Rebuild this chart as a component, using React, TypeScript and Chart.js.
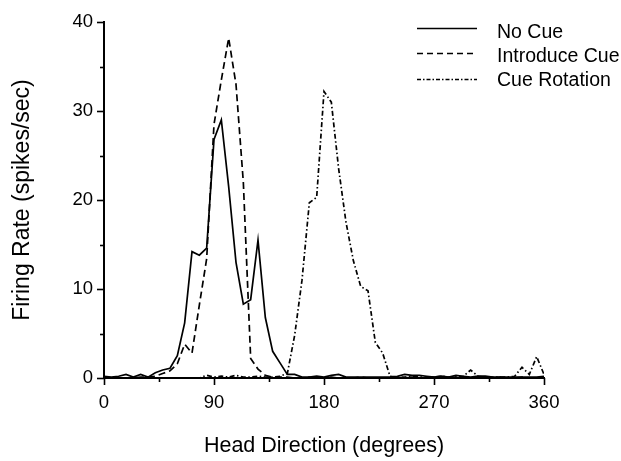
import React, { useEffect, useRef } from "react";
import { Chart, registerables } from "chart.js";

Chart.register(...registerables);

// Head direction bins (degrees)
const ANGLES: number[] = [
  0, 6, 12, 18, 24, 30, 36, 42, 48, 54, 60, 66, 72, 78, 84, 90, 96, 102, 108, 114,
  120, 126, 132, 138, 144, 150, 156, 162, 168, 174, 180, 186, 192, 198, 204, 210, 216, 222, 228, 234,
  240, 246, 252, 258, 264, 270, 276, 282, 288, 294, 300, 306, 312, 318, 324, 330, 336, 342, 348, 354, 360,
];

const NO_CUE: number[] = [
  0.2, 0.1, 0.2, 0.4, 0.1, 0.4, 0.1, 0.6, 0.9, 1.1, 2.5, 6.2, 14.2, 13.8, 14.6, 26.8, 29.0, 21.5, 13.0, 8.3,
  8.8, 15.5, 6.8, 3.0, 1.7, 0.4, 0.4, 0.1, 0.1, 0.2, 0.1, 0.3, 0.4, 0.1, 0.1, 0.1, 0.1, 0.1, 0.1, 0.1,
  0.2, 0.4, 0.3, 0.3, 0.2, 0.1, 0.2, 0.1, 0.3, 0.2, 0.1, 0.2, 0.2, 0.1, 0.1, 0.1, 0.1, 0.1, 0.1, 0.1, 0.2,
];

const INTRODUCE_CUE: number[] = [
  0.1, 0.0, 0.0, 0.0, 0.0, 0.1, 0.1, 0.2, 0.5, 0.8, 1.6, 3.8, 2.8, 8.2, 13.4, 28.5, 33.5, 38.2, 33.0, 22.0,
  2.2, 1.0, 0.3, 0.1, 0.1, 0.1, 0.0, 0.0, 0.1, 0.0, 0.0, 0.1, 0.0, 0.0, 0.0, 0.1, 0.0, 0.0, 0.0, 0.0,
  0.1, 0.0, 0.1, 0.0, 0.0, 0.1, 0.0, 0.0, 0.1, 0.0, 0.0, 0.1, 0.0, 0.0, 0.1, 0.0, 0.0, 0.1, 0.0, 0.0, 0.1,
];

const CUE_ROTATION: number[] = [
  0.0, 0.0, 0.0, 0.0, 0.0, 0.0, 0.0, 0.0, 0.0, 0.0, 0.0, 0.0, 0.0, 0.0, 0.3, 0.1, 0.2, 0.1, 0.3, 0.1,
  0.1, 0.2, 0.1, 0.1, 0.2, 0.5, 4.8, 11.0, 19.7, 20.3, 32.2, 31.0, 23.5, 17.5, 13.2, 10.3, 9.8, 4.0, 2.8, 0.2,
  0.1, 0.1, 0.2, 0.1, 0.1, 0.1, 0.2, 0.1, 0.1, 0.2, 0.9, 0.2, 0.1, 0.1, 0.1, 0.1, 0.2, 1.2, 0.4, 2.4, 0.4,
];

const SERIES_NAMES: string[] = ["No Cue", "Introduce Cue", "Cue Rotation"];
const X_MAJOR_TICKS: number[] = [0, 90, 180, 270, 360];
const X_MINOR_TICKS: number[] = [45, 135, 225, 315];
const Y_MAJOR_TICKS: number[] = [0, 10, 20, 30, 40];
const Y_MINOR_TICKS: number[] = [5, 15, 25, 35];

const FONT = "'Liberation Sans', Arial, Helvetica, sans-serif";
const INK = "#000000";

const DASHES: number[][] = [[], [7, 4], [5, 2.5, 1.5, 2.5]];
const LEGEND_DASHES: number[][] = [[], [6, 4], [4, 2, 1.5, 2]];

const tickMarksPlugin = {
  id: "tickMarks",
  afterDraw(chart: any) {
    const { ctx, chartArea, scales } = chart;
    const xs = scales.x;
    const ys = scales.y;
    ctx.save();
    ctx.strokeStyle = INK;
    ctx.lineWidth = 1.6;
    ctx.setLineDash([]);
    const drawX = (vals: number[], len: number) => {
      vals.forEach((v) => {
        const px = Math.round(xs.getPixelForValue(v)) + 0.5;
        ctx.beginPath();
        ctx.moveTo(px, chartArea.bottom);
        ctx.lineTo(px, chartArea.bottom + len);
        ctx.stroke();
      });
    };
    const drawY = (vals: number[], len: number) => {
      vals.forEach((v) => {
        const py = Math.round(ys.getPixelForValue(v)) + 0.5;
        ctx.beginPath();
        ctx.moveTo(chartArea.left, py);
        ctx.lineTo(chartArea.left - len, py);
        ctx.stroke();
      });
    };
    drawX(X_MAJOR_TICKS, 7);
    drawX(X_MINOR_TICKS, 4);
    drawY(Y_MAJOR_TICKS, 7);
    drawY(Y_MINOR_TICKS, 4);
    ctx.restore();
  },
};

const legendPlugin = {
  id: "customLegend",
  afterDraw(chart: any) {
    const { ctx } = chart;
    const lineYs = [28.5, 53.5, 79.5];
    const textYs = [32.5, 57, 81];
    ctx.save();
    chart.data.datasets.forEach((ds: any, i: number) => {
      ctx.strokeStyle = INK;
      ctx.lineWidth = 1.6;
      ctx.setLineDash(LEGEND_DASHES[i]);
      ctx.beginPath();
      ctx.moveTo(417, lineYs[i]);
      ctx.lineTo(477, lineYs[i]);
      ctx.stroke();
      ctx.setLineDash([]);
      ctx.fillStyle = INK;
      ctx.font = `19.5px ${FONT}`;
      ctx.textAlign = "left";
      ctx.textBaseline = "middle";
      ctx.fillText(ds.label, 497, textYs[i]);
    });
    ctx.restore();
  },
};

export default function App() {
  const canvasRef = useRef<HTMLCanvasElement | null>(null);

  useEffect(() => {
    document.body.style.margin = "0";
    const canvas = canvasRef.current;
    if (!canvas) return;
    const seriesValues = [NO_CUE, INTRODUCE_CUE, CUE_ROTATION];
    const datasets = seriesValues.map((vals, i) => ({
      label: SERIES_NAMES[i],
      data: ANGLES.map((a, j) => ({ x: a, y: vals[j] })),
      borderColor: INK,
      backgroundColor: INK,
      borderWidth: 1.7,
      borderDash: DASHES[i],
      pointRadius: 0,
      tension: 0,
      fill: false,
    }));

    const chart = new Chart(canvas, {
      type: "line",
      data: { datasets },
      plugins: [tickMarksPlugin, legendPlugin],
      options: {
        animation: false,
        responsive: false,
        devicePixelRatio: 1,
        layout: { padding: { top: 17, right: 77, bottom: 0, left: 0 } },
        plugins: { legend: { display: false }, tooltip: { enabled: false } },
        scales: {
          x: {
            type: "linear",
            min: 0,
            max: 360,
            afterFit: (s: any) => {
              s.height = 83;
            },
            afterBuildTicks: (s: any) => {
              s.ticks = X_MAJOR_TICKS.map((v) => ({ value: v }));
            },
            grid: { display: false, drawTicks: false },
            border: { display: true, color: INK, width: 2 },
            ticks: {
              color: INK,
              padding: 14,
              maxRotation: 0,
              autoSkip: false,
              font: { family: FONT, size: 18.5 },
            },
            title: {
              display: true,
              text: "Head Direction (degrees)",
              color: INK,
              font: { family: FONT, size: 21.5 },
              padding: { top: 0, bottom: 2 },
            },
          },
          y: {
            type: "linear",
            min: 0,
            max: 40,
            afterFit: (s: any) => {
              s.width = 104;
            },
            afterBuildTicks: (s: any) => {
              s.ticks = Y_MAJOR_TICKS.map((v) => ({ value: v }));
            },
            grid: { display: false, drawTicks: false },
            border: { display: true, color: INK, width: 2 },
            ticks: {
              color: INK,
              padding: 11,
              autoSkip: false,
              font: { family: FONT, size: 18.5 },
            },
            title: {
              display: true,
              text: "Firing Rate (spikes/sec)",
              color: INK,
              font: { family: FONT, size: 23 },
              padding: { top: 9, bottom: 0 },
            },
          },
        },
      },
    } as any);

    return () => {
      chart.destroy();
    };
  }, []);

  return (
    <div style={{ position: "absolute", left: 0, top: 0, width: 621, height: 461, background: "#fff" }}>
      <canvas ref={canvasRef} width={621} height={461} style={{ display: "block" }} />
    </div>
  );
}
